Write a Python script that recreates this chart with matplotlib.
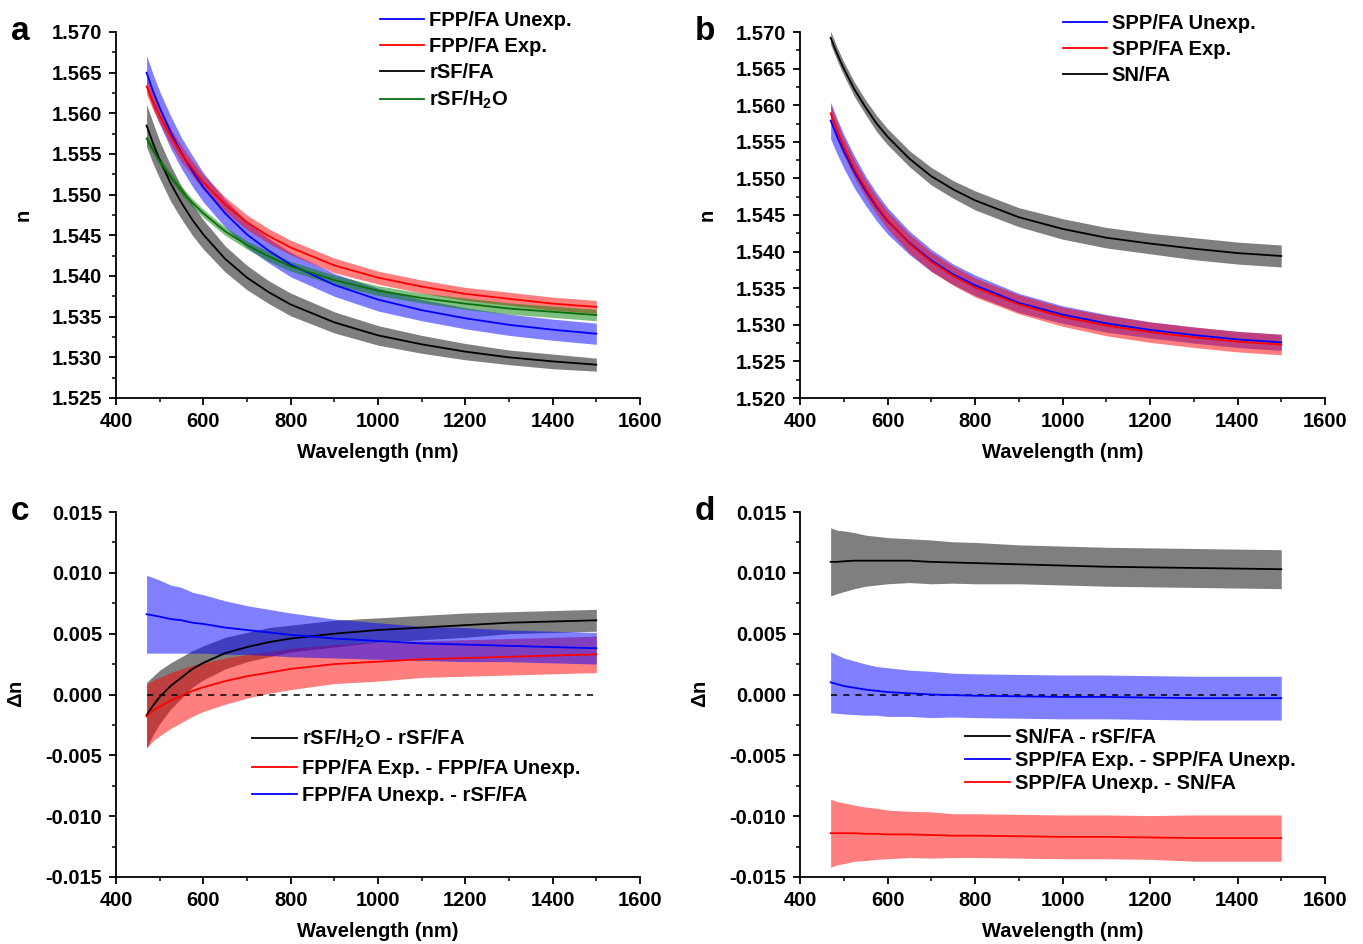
import matplotlib
matplotlib.use('Agg')
import matplotlib.pyplot as plt
from matplotlib.ticker import MultipleLocator, FormatStrFormatter

plt.rcParams['font.family'] = ['Liberation Sans', 'DejaVu Sans']
plt.rcParams['font.weight'] = 'bold'
plt.rcParams['axes.unicode_minus'] = False
plt.rcParams['mathtext.fontset'] = 'custom'
plt.rcParams['mathtext.rm'] = 'Liberation Sans:bold'
plt.rcParams['mathtext.bf'] = 'Liberation Sans:bold'
plt.rcParams['mathtext.default'] = 'rm'

# Wavelengths (nm) at which the curves were read
wl = [470, 485, 500, 525, 550, 575, 600, 650, 700, 750, 800, 900, 1000, 1100, 1200, 1300, 1400, 1500]

# Panel a: refractive index n
fpp_unexp = [1.5650, 1.5627, 1.5607, 1.5577, 1.5551, 1.5529, 1.5509, 1.5477, 1.5451, 1.5431, 1.5414, 1.5389, 1.5371, 1.5358, 1.5348, 1.5340, 1.5334, 1.5329]
fpp_unexp_err = [0.0021, 0.0021, 0.0020, 0.0020, 0.0019, 0.0019, 0.0018, 0.0017, 0.0016, 0.0015, 0.0015, 0.0014, 0.0014, 0.0013, 0.0013, 0.0013, 0.0013, 0.0013]
fpp_exp = [1.5633, 1.5614, 1.5597, 1.5572, 1.5550, 1.5532, 1.5515, 1.5488, 1.5466, 1.5449, 1.5435, 1.5413, 1.5398, 1.5387, 1.5378, 1.5372, 1.5366, 1.5362]
fpp_exp_err = [0.0010, 0.0010, 0.0010, 0.0010, 0.0010, 0.0009, 0.0009, 0.0009, 0.0009, 0.0009, 0.0009, 0.0009, 0.0008, 0.0008, 0.0008, 0.0008, 0.0008, 0.0008]
rsf_fa = [1.5585, 1.5563, 1.5543, 1.5514, 1.5490, 1.5469, 1.5451, 1.5421, 1.5398, 1.5380, 1.5365, 1.5343, 1.5327, 1.5316, 1.5307, 1.5300, 1.5295, 1.5291]
rsf_fa_err = [0.0026, 0.0025, 0.0023, 0.0022, 0.0020, 0.0019, 0.0018, 0.0016, 0.0015, 0.0014, 0.0014, 0.0013, 0.0012, 0.0011, 0.0010, 0.0009, 0.0009, 0.0008]
rsf_h2o = [1.5569, 1.5555, 1.5541, 1.5522, 1.5505, 1.5490, 1.5477, 1.5455, 1.5438, 1.5424, 1.5412, 1.5395, 1.5382, 1.5373, 1.5366, 1.5360, 1.5356, 1.5352]
rsf_h2o_err = [0.0005, 0.0005, 0.0005, 0.0005, 0.0005, 0.0005, 0.0005, 0.0005, 0.0005, 0.0006, 0.0006, 0.0006, 0.0006, 0.0006, 0.0007, 0.0007, 0.0007, 0.0007]

# Panel b: refractive index n
spp_unexp = [1.5579, 1.5557, 1.5537, 1.5508, 1.5483, 1.5461, 1.5442, 1.5412, 1.5388, 1.5369, 1.5354, 1.5330, 1.5314, 1.5302, 1.5293, 1.5286, 1.5280, 1.5276]
spp_unexp_err = [0.0025, 0.0024, 0.0023, 0.0022, 0.0020, 0.0019, 0.0018, 0.0016, 0.0015, 0.0014, 0.0014, 0.0013, 0.0012, 0.0012, 0.0011, 0.0011, 0.0011, 0.0011]
spp_exp = [1.5589, 1.5565, 1.5543, 1.5512, 1.5486, 1.5463, 1.5443, 1.5411, 1.5386, 1.5367, 1.5351, 1.5328, 1.5311, 1.5299, 1.5290, 1.5283, 1.5277, 1.5273]
spp_exp_err = [0.0012, 0.0012, 0.0012, 0.0012, 0.0012, 0.0012, 0.0012, 0.0013, 0.0013, 0.0013, 0.0013, 0.0013, 0.0013, 0.0014, 0.0014, 0.0014, 0.0014, 0.0014]
sn_fa = [1.5692, 1.5670, 1.5650, 1.5621, 1.5597, 1.5575, 1.5557, 1.5527, 1.5503, 1.5485, 1.5470, 1.5447, 1.5431, 1.5419, 1.5411, 1.5404, 1.5398, 1.5394]
sn_fa_err = [0.0009, 0.0009, 0.0009, 0.0010, 0.0010, 0.0011, 0.0011, 0.0011, 0.0012, 0.0012, 0.0013, 0.0013, 0.0014, 0.0014, 0.0014, 0.0015, 0.0015, 0.0015]

# Panel c: differences
dn_h2o_fa = [-0.0017, -0.0009, -0.0002, 0.0007, 0.0014, 0.0021, 0.0026, 0.0034, 0.0039, 0.0043, 0.0046, 0.0050, 0.0053, 0.0055, 0.0057, 0.0059, 0.0060, 0.0061]
dn_h2o_fa_err = [0.0027, 0.0024, 0.0022, 0.0019, 0.0017, 0.0015, 0.0014, 0.0013, 0.0012, 0.0012, 0.0011, 0.0011, 0.0010, 0.0010, 0.0010, 0.0009, 0.0009, 0.0009]
dn_exp_unexp = [-0.0018, -0.0013, -0.0010, -0.0005, -0.0001, 0.0003, 0.0006, 0.0011, 0.0015, 0.0018, 0.0021, 0.0025, 0.0027, 0.0029, 0.0030, 0.0031, 0.0032, 0.0033]
dn_exp_unexp_err = [0.0026, 0.0025, 0.0024, 0.0023, 0.0022, 0.0021, 0.0020, 0.0019, 0.0018, 0.0017, 0.0017, 0.0016, 0.0016, 0.0015, 0.0015, 0.0015, 0.0015, 0.0015]
dn_unexp_fa = [0.0066, 0.0065, 0.0064, 0.0062, 0.0061, 0.0059, 0.0058, 0.0055, 0.0053, 0.0051, 0.0049, 0.0046, 0.0044, 0.0042, 0.0041, 0.0040, 0.0039, 0.0038]
dn_unexp_fa_err = [0.0032, 0.0031, 0.0030, 0.0028, 0.0027, 0.0025, 0.0024, 0.0022, 0.0020, 0.0019, 0.0018, 0.0016, 0.0015, 0.0014, 0.0014, 0.0013, 0.0013, 0.0013]

# Panel d: differences
dn_sn_fa = [0.0109, 0.0109, 0.01095, 0.0110, 0.0110, 0.0110, 0.0110, 0.0110, 0.0109, 0.01085, 0.0108, 0.0107, 0.0106, 0.0105, 0.01045, 0.0104, 0.01035, 0.0103]
dn_sn_fa_err = [0.0028, 0.0026, 0.0025, 0.0023, 0.0021, 0.0020, 0.0019, 0.0018, 0.0018, 0.0017, 0.0017, 0.0016, 0.0016, 0.0016, 0.0016, 0.0016, 0.0016, 0.0016]
dn_spp_exp_unexp = [0.0010, 0.00085, 0.0007, 0.00055, 0.0004, 0.0003, 0.0002, 0.0001, 0.0000, -0.00005, -0.0001, -0.00015, -0.0002, -0.0002, -0.00025, -0.0003, -0.0003, -0.0003]
dn_spp_exp_unexp_err = [0.0025, 0.0024, 0.0023, 0.0022, 0.0021, 0.0020, 0.0020, 0.0019, 0.0019, 0.0018, 0.0018, 0.0018, 0.0018, 0.0018, 0.0018, 0.0018, 0.0018, 0.0018]
dn_spp_sn = [-0.0114, -0.0114, -0.0114, -0.0114, -0.01145, -0.01145, -0.0115, -0.0115, -0.01155, -0.0116, -0.0116, -0.01165, -0.0117, -0.0117, -0.01175, -0.0118, -0.0118, -0.0118]
dn_spp_sn_err = [0.0028, 0.0026, 0.0025, 0.0023, 0.0022, 0.0021, 0.0020, 0.0019, 0.0019, 0.0018, 0.0018, 0.0018, 0.0018, 0.0018, 0.0018, 0.0019, 0.0019, 0.0019]

BLUE, RED, BLACK, GREEN = '#0000ff', '#ff0000', '#000000', '#0b6e0b'
FILL_GREEN = '#008000'
FS = 14.5


def band(ax, y, err, line_color, fill_color, label):
    lo = [v - e for v, e in zip(y, err)]
    hi = [v + e for v, e in zip(y, err)]
    ax.fill_between(wl, lo, hi, color=fill_color, alpha=0.5, lw=0)
    line, = ax.plot(wl, y, color=line_color, lw=1.3, label=label, zorder=5)
    return line


def style(ax, ylim, ystep, yfmt, ylabel, letter):
    ax.set_xlim(400, 1600)
    ax.set_ylim(*ylim)
    ax.xaxis.set_major_locator(MultipleLocator(200))
    ax.xaxis.set_minor_locator(MultipleLocator(100))
    ax.yaxis.set_major_locator(MultipleLocator(ystep))
    ax.yaxis.set_minor_locator(MultipleLocator(ystep / 2))
    ax.yaxis.set_major_formatter(FormatStrFormatter(yfmt))
    for s in ['top', 'right']:
        ax.spines[s].set_visible(False)
    for s in ['left', 'bottom']:
        ax.spines[s].set_linewidth(1.3)
    ax.tick_params(which='major', direction='out', length=5, width=1.3, labelsize=FS, pad=5)
    ax.tick_params(which='minor', direction='out', length=3, width=1.1)
    ax.set_xlabel('Wavelength (nm)', fontsize=FS, fontweight='bold', labelpad=9)
    ax.set_ylabel(ylabel, fontsize=FS, fontweight='bold', labelpad=14)
    ax.text(-0.2, 1.0, letter, transform=ax.transAxes, fontsize=24,
            fontweight='bold', ha='left', va='center')


def legend(ax, handles, x, y, spacing):
    ax.legend(handles=handles, loc='upper left', bbox_to_anchor=(x, y),
              frameon=False, fontsize=FS, handlelength=2.2, handletextpad=0.25,
              labelspacing=spacing, borderpad=0, borderaxespad=0)


fig = plt.figure(figsize=(13.63, 9.44), dpi=100)
W, H = 1363, 944
ax_a = fig.add_axes([116 / W, 1 - 398 / H, 524 / W, 366 / H])
ax_b = fig.add_axes([800 / W, 1 - 398 / H, 525 / W, 366 / H])
ax_c = fig.add_axes([116 / W, 1 - 877 / H, 524 / W, 365 / H])
ax_d = fig.add_axes([800 / W, 1 - 877 / H, 525 / W, 365 / H])

# a
h1 = band(ax_a, fpp_unexp, fpp_unexp_err, BLUE, BLUE, 'FPP/FA Unexp.')
h2 = band(ax_a, fpp_exp, fpp_exp_err, RED, RED, 'FPP/FA Exp.')
h3 = band(ax_a, rsf_fa, rsf_fa_err, BLACK, BLACK, 'rSF/FA')
h4 = band(ax_a, rsf_h2o, rsf_h2o_err, GREEN, FILL_GREEN, r'rSF/H$_2$O')
style(ax_a, (1.525, 1.570), 0.005, '%.3f', 'n', 'a')
legend(ax_a, [h1, h2, h3, h4], 0.504, 1.058, 0.35)

# b
h1 = band(ax_b, spp_unexp, spp_unexp_err, BLUE, BLUE, 'SPP/FA Unexp.')
h2 = band(ax_b, spp_exp, spp_exp_err, RED, RED, 'SPP/FA Exp.')
h3 = band(ax_b, sn_fa, sn_fa_err, BLACK, BLACK, 'SN/FA')
style(ax_b, (1.520, 1.570), 0.005, '%.3f', 'n', 'b')
legend(ax_b, [h1, h2, h3], 0.50, 1.05, 0.35)

# c
h1 = band(ax_c, dn_h2o_fa, dn_h2o_fa_err, BLACK, BLACK, r'rSF/H$_2$O - rSF/FA')
h2 = band(ax_c, dn_exp_unexp, dn_exp_unexp_err, RED, RED, 'FPP/FA Exp. - FPP/FA Unexp.')
h3 = band(ax_c, dn_unexp_fa, dn_unexp_fa_err, BLUE, BLUE, 'FPP/FA Unexp. - rSF/FA')
ax_c.plot([wl[0], wl[-1]], [0, 0], color='black', lw=1.1, ls=(0, (4, 4)), zorder=4)
style(ax_c, (-0.015, 0.015), 0.005, '%.3f', r'$\Delta$n', 'c')
legend(ax_c, [h1, h2, h3], 0.26, 0.408, 0.42)

# d
h1 = band(ax_d, dn_sn_fa, dn_sn_fa_err, BLACK, BLACK, 'SN/FA - rSF/FA')
h2 = band(ax_d, dn_spp_exp_unexp, dn_spp_exp_unexp_err, BLUE, BLUE, 'SPP/FA Exp. - SPP/FA Unexp.')
h3 = band(ax_d, dn_spp_sn, dn_spp_sn_err, RED, RED, 'SPP/FA Unexp. - SN/FA')
ax_d.plot([wl[0], wl[-1]], [0, 0], color='black', lw=1.1, ls=(0, (4, 4)), zorder=4)
style(ax_d, (-0.015, 0.015), 0.005, '%.3f', r'$\Delta$n', 'd')
legend(ax_d, [h1, h2, h3], 0.315, 0.408, 0.2)

fig.savefig('out.png', dpi=100)
